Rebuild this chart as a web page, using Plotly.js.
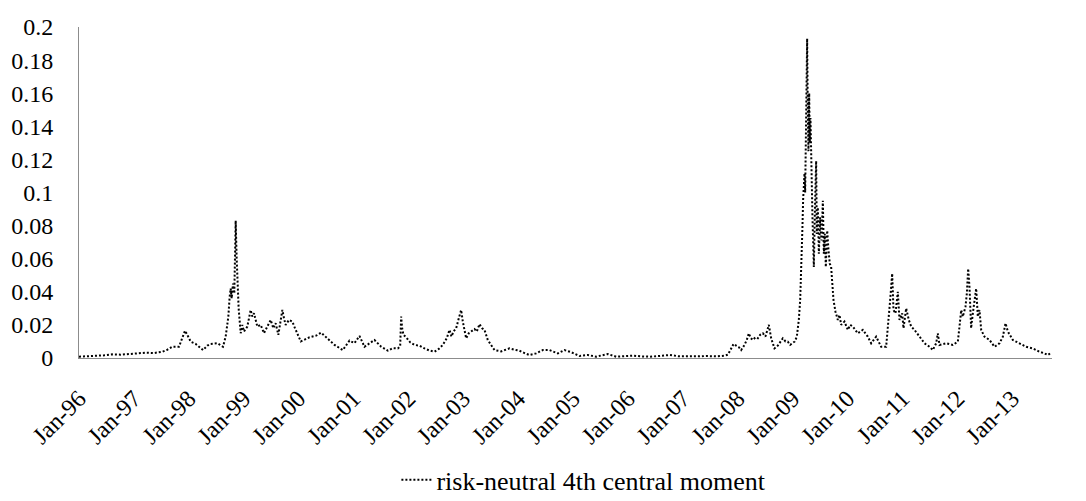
<!DOCTYPE html>
<html>
<head>
<meta charset="utf-8">
<script src="https://cdn.plot.ly/plotly-3.0.1.min.js"></script>
<style>
html,body{margin:0;padding:0;background:#fff;}
#chart{width:1086px;height:501px;}
</style>
</head>
<body>
<div id="chart"></div>
<script>
// Position along the time axis, in decimal years
var years = [
1996.000,1996.152,1996.304,1996.455,1996.607,1996.759,1996.911,1997.063,1997.214,1997.366,
1997.518,1997.609,1997.700,1997.821,1997.882,1997.931,1997.973,1998.034,1998.125,1998.186,
1998.259,1998.338,1998.398,1998.520,1998.623,1998.672,1998.720,1998.744,1998.763,1998.781,
1998.805,1998.829,1998.854,1998.872,1998.890,1998.908,1998.945,1998.975,1999.005,1999.066,
1999.127,1999.157,1999.188,1999.248,1999.309,1999.370,1999.430,1999.491,1999.540,1999.582,
1999.631,1999.673,1999.704,1999.734,1999.764,1999.825,1999.886,1999.934,1999.977,2000.040,
2000.198,2000.320,2000.411,2000.532,2000.654,2000.805,2000.927,2001.018,2001.109,2001.200,
2001.291,2001.382,2001.504,2001.625,2001.716,2001.807,2001.850,2001.868,2001.886,2001.910,
2001.959,2002.032,2002.111,2002.202,2002.293,2002.384,2002.475,2002.554,2002.627,2002.700,
2002.748,2002.785,2002.821,2002.870,2002.918,2002.961,2002.991,2003.021,2003.052,2003.100,
2003.143,2003.204,2003.246,2003.295,2003.343,2003.386,2003.446,2003.507,2003.568,2003.689,
2003.841,2003.932,2004.023,2004.114,2004.205,2004.327,2004.448,2004.570,2004.722,2004.843,
2004.965,2005.117,2005.268,2005.420,2005.542,2005.633,2005.784,2005.936,2006.088,2006.240,
2006.392,2006.574,2006.756,2006.938,2007.120,2007.302,2007.424,2007.606,2007.758,2007.819,
2007.861,2007.922,2007.970,2008.019,2008.061,2008.122,2008.164,2008.201,2008.237,2008.274,
2008.322,2008.365,2008.407,2008.456,2008.504,2008.547,2008.565,2008.608,2008.668,2008.729,
2008.771,2008.820,2008.869,2008.911,2008.954,2009.002,2009.039,2009.075,2009.111,2009.136,
2009.154,2009.166,2009.178,2009.190,2009.203,2009.215,2009.227,2009.239,2009.251,2009.263,
2009.275,2009.287,2009.300,2009.312,2009.324,2009.336,2009.348,2009.360,2009.373,2009.385,
2009.403,2009.415,2009.427,2009.439,2009.458,2009.476,2009.500,2009.524,2009.549,2009.567,
2009.585,2009.603,2009.628,2009.652,2009.676,2009.700,2009.719,2009.743,2009.779,2009.822,
2009.852,2009.883,2009.943,2010.004,2010.047,2010.095,2010.186,2010.277,2010.368,2010.429,
2010.520,2010.611,2010.702,2010.751,2010.775,2010.812,2010.836,2010.872,2010.915,2010.945,
2010.994,2011.018,2011.067,2011.115,2011.158,2011.218,2011.310,2011.401,2011.492,2011.552,
2011.613,2011.643,2011.674,2011.795,2011.917,2012.008,2012.038,2012.069,2012.099,2012.147,
2012.172,2012.196,2012.220,2012.250,2012.281,2012.317,2012.342,2012.372,2012.402,2012.433,
2012.493,2012.585,2012.676,2012.767,2012.828,2012.876,2012.919,2013.009,2013.131,2013.252,
2013.374,2013.495,2013.587,2013.647,2013.708
];

// Risk-neutral 4th central moment
var moment4 = [
0.0008,0.0010,0.0014,0.0016,0.0022,0.0020,0.0024,0.0028,0.0032,0.0030,
0.0038,0.0050,0.0068,0.0068,0.0120,0.0165,0.0140,0.0099,0.0085,0.0070,
0.0048,0.0075,0.0085,0.0089,0.0068,0.0130,0.0250,0.0370,0.0420,0.0360,
0.0450,0.0390,0.0830,0.0600,0.0420,0.0300,0.0150,0.0200,0.0160,0.0190,
0.0290,0.0250,0.0270,0.0190,0.0200,0.0150,0.0190,0.0230,0.0180,0.0210,
0.0140,0.0220,0.0290,0.0240,0.0200,0.0230,0.0220,0.0180,0.0150,0.0100,
0.0125,0.0135,0.0153,0.0113,0.0079,0.0048,0.0105,0.0090,0.0133,0.0068,
0.0090,0.0109,0.0068,0.0044,0.0060,0.0058,0.0070,0.0250,0.0180,0.0140,
0.0125,0.0095,0.0079,0.0075,0.0058,0.0045,0.0038,0.0055,0.0079,0.0120,
0.0170,0.0130,0.0160,0.0180,0.0240,0.0290,0.0220,0.0160,0.0119,0.0150,
0.0160,0.0175,0.0160,0.0205,0.0180,0.0170,0.0109,0.0075,0.0048,0.0040,
0.0058,0.0050,0.0044,0.0030,0.0018,0.0028,0.0048,0.0048,0.0028,0.0048,
0.0035,0.0012,0.0018,0.0008,0.0016,0.0024,0.0008,0.0012,0.0014,0.0010,
0.0008,0.0012,0.0018,0.0010,0.0008,0.0010,0.0012,0.0010,0.0014,0.0020,
0.0045,0.0085,0.0075,0.0065,0.0048,0.0079,0.0110,0.0149,0.0120,0.0109,
0.0125,0.0119,0.0140,0.0149,0.0130,0.0180,0.0200,0.0119,0.0058,0.0075,
0.0095,0.0119,0.0100,0.0099,0.0080,0.0089,0.0100,0.0129,0.0230,0.0350,
0.0510,0.0670,0.0800,0.0960,0.1035,0.1116,0.1000,0.1250,0.1400,0.1930,
0.1500,0.1250,0.1600,0.1300,0.1450,0.1150,0.1050,0.0850,0.0700,0.0550,
0.0870,0.1000,0.1190,0.0750,0.0910,0.0630,0.0850,0.0710,0.0950,0.0630,
0.0750,0.0550,0.0770,0.0650,0.0570,0.0550,0.0450,0.0350,0.0280,0.0230,
0.0260,0.0200,0.0220,0.0170,0.0200,0.0190,0.0149,0.0170,0.0129,0.0089,
0.0129,0.0068,0.0068,0.0230,0.0350,0.0510,0.0290,0.0270,0.0400,0.0230,
0.0270,0.0180,0.0300,0.0230,0.0190,0.0170,0.0129,0.0089,0.0068,0.0048,
0.0089,0.0149,0.0079,0.0089,0.0079,0.0099,0.0190,0.0290,0.0250,0.0310,
0.0390,0.0540,0.0430,0.0180,0.0270,0.0350,0.0420,0.0250,0.0290,0.0170,
0.0129,0.0109,0.0068,0.0089,0.0129,0.0210,0.0160,0.0109,0.0089,0.0068,
0.0058,0.0038,0.0028,0.0018,0.0032
];

var xTickVals = [1996,1997,1998,1999,2000,2001,2002,2003,2004,2005,2006,2007,2008,2009,2010,2011,2012,2013];
var xTickText = ['Jan-96','Jan-97','Jan-98','Jan-99','Jan-00','Jan-01','Jan-02','Jan-03','Jan-04',
                 'Jan-05','Jan-06','Jan-07','Jan-08','Jan-09','Jan-10','Jan-11','Jan-12','Jan-13'];
var yTickVals = [0,0.02,0.04,0.06,0.08,0.1,0.12,0.14,0.16,0.18,0.2];
var yTickText = ['0','0.02','0.04','0.06','0.08','0.1','0.12','0.14','0.16','0.18','0.2'];

var font = "'Liberation Serif', 'Times New Roman', serif";

var trace = {
  type: 'scatter',
  mode: 'lines',
  name: 'risk-neutral 4th central moment',
  x: years,
  y: moment4,
  line: {color: '#000000', width: 2, dash: '2px,2px'}
};

var layout = {
  width: 1086,
  height: 501,
  paper_bgcolor: '#ffffff',
  plot_bgcolor: '#ffffff',
  margin: {l: 79, r: 34, t: 27, b: 143, autoexpand: false},
  font: {family: font, color: '#000000', size: 24},
  showlegend: true,
  legend: {
    orientation: 'h',
    xref: 'container', yref: 'container',
    x: 0.365, xanchor: 'left',
    y: 0.042, yanchor: 'middle',
    font: {family: font, size: 26, color: '#000000'},
    bgcolor: 'rgba(0,0,0,0)'
  },
  xaxis: {
    type: 'linear',
    automargin: false,
    range: [1996, 2013.723],
    tickmode: 'array',
    tickvals: xTickVals,
    ticktext: xTickText,
    tickangle: -45,
    ticks: '',
    showgrid: false,
    zeroline: false,
    showline: true,
    linecolor: '#8c8c8c',
    linewidth: 1,
    ticklabelstandoff: 16,
    tickfont: {family: font, size: 24, color: '#000000'}
  },
  yaxis: {
    automargin: false,
    range: [0, 0.2],
    tickmode: 'array',
    tickvals: yTickVals,
    ticktext: yTickText,
    ticks: '',
    showgrid: false,
    zeroline: false,
    showline: true,
    linecolor: '#8c8c8c',
    linewidth: 1,
    ticklabelstandoff: 20,
    tickfont: {family: font, size: 24, color: '#000000'}
  }
};

Plotly.newPlot('chart', [trace], layout, {displayModeBar: false, staticPlot: true});
</script>
</body>
</html>
